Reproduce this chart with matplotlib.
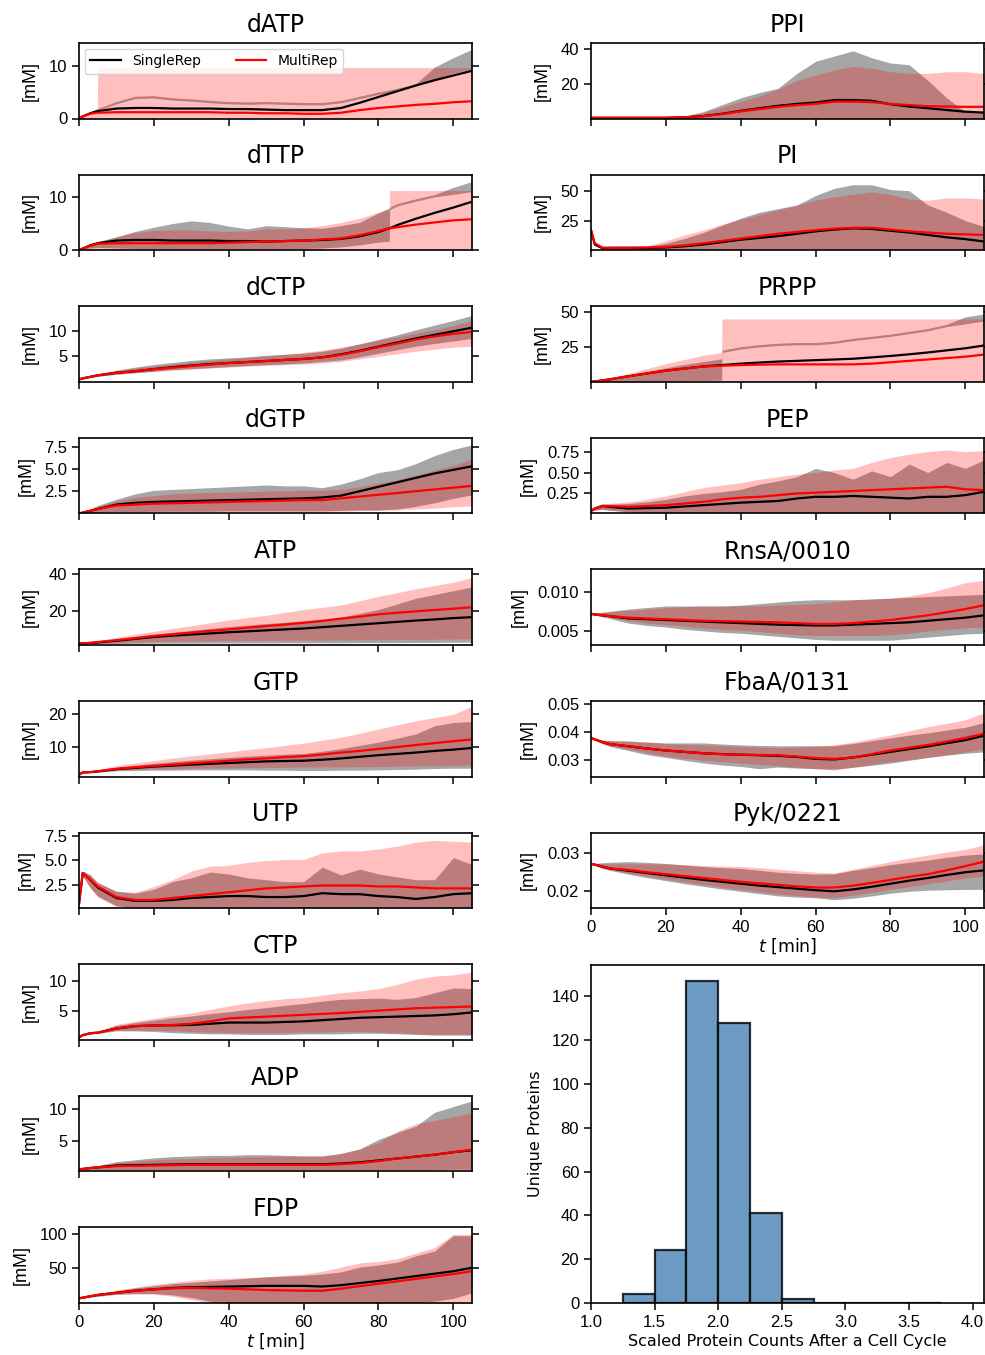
import numpy as np
import matplotlib.pyplot as plt

plt.rcParams["font.family"] = "Liberation Sans"
plt.rcParams["xtick.labelsize"] = 12
plt.rcParams["ytick.labelsize"] = 12
LABEL_FONT = "DejaVu Sans"

# time axis in minutes (common sampling)
t_min = [0, 1, 3, 5, 10, 15, 20, 25, 30, 35, 40, 45, 50, 55, 60, 65, 70, 75, 80, 85, 90, 95, 100, 105]

# ---- left column -------------------------------------------------------
datp_t = [0, 1, 3, 4.9, 5, 10, 15, 20, 25, 30, 35, 40, 45, 50, 55, 60, 65, 70, 75, 80, 85, 90, 95, 100, 105]
datp_sr = [0, 0.4, 1.0, 1.4, 1.4, 1.9, 2.0, 2.0, 1.9, 1.9, 1.9, 1.8, 1.8, 1.7, 1.6, 1.6, 1.6, 2.0, 3.0, 4.1, 5.2, 6.3, 7.3, 8.2, 9.1]
datp_sr_lo = [0, 0.4, 1.0, 1.5, 1.5, 2.8, 3.8, 3.9, 3.5, 3.3, 3.0, 2.8, 2.7, 2.8, 2.7, 2.6, 2.6, 3.0, 3.8, 4.6, 5.3, 6.2, 7.5, 8.6, 9.5]
datp_sr_hi = [0, 0.5, 1.3, 1.9, 1.9, 3.25, 4.25, 4.35, 3.95, 3.75, 3.45, 3.25, 3.15, 3.25, 3.15, 3.05, 3.05, 3.45, 4.25, 5.05, 5.75, 6.65, 9.8, 11.6, 13.2]
datp_mr = [0, 0.4, 0.9, 1.1, 1.1, 1.2, 1.2, 1.2, 1.2, 1.2, 1.2, 1.1, 1.1, 1.0, 1.0, 0.9, 0.9, 1.1, 1.6, 2.0, 2.3, 2.6, 2.8, 3.1, 3.3]
datp_mr_lo = [0, 0, 0, 0, 0, 0, 0, 0, 0, 0, 0, 0, 0, 0, 0, 0, 0, 0, 0, 0, 0, 0, 0, 0, 0]
datp_mr_hi = [0, 0.5, 1.3, 1.6, 9.7, 9.7, 9.7, 9.7, 9.7, 9.7, 9.7, 9.7, 9.7, 9.7, 9.7, 9.7, 9.7, 9.7, 9.7, 9.7, 9.7, 9.7, 9.7, 9.7, 9.7]

dttp_t = [0, 1, 3, 5, 10, 15, 20, 25, 30, 35, 40, 45, 50, 55, 60, 65, 70, 75, 80, 82.9, 83, 85, 90, 95, 100, 105]
dttp_sr = [0, 0.3, 0.9, 1.3, 1.8, 1.9, 1.9, 1.8, 1.8, 1.8, 1.7, 1.7, 1.6, 1.7, 1.8, 1.9, 2.1, 2.6, 3.4, 4.1, 4.1, 4.7, 5.9, 7.0, 8.0, 9.1]
dttp_sr_lo = [0, 0.2, 0.4, 0.5, 0.4, 0.3, 0.3, 0.3, 0.3, 0.3, 0.3, 0.3, 0.3, 0.3, 0.3, 0.4, 0.6, 1.0, 1.5, 1.7, 7.6, 8.3, 9.2, 10.0, 10.5, 11.0]
dttp_sr_hi = [0, 0.5, 1.2, 1.6, 2.5, 3.5, 4.3, 5.0, 5.5, 5.2, 4.5, 4.0, 4.6, 4.4, 4.2, 4.1, 4.6, 5.2, 7.0, 7.9, 8.05, 8.75, 9.65, 10.45, 11.8, 12.9]
dttp_mr = [0, 0.3, 0.8, 1.2, 1.3, 1.3, 1.3, 1.3, 1.3, 1.3, 1.4, 1.5, 1.6, 1.7, 1.8, 2.0, 2.2, 2.8, 3.6, 4.1, 4.1, 4.3, 4.8, 5.2, 5.6, 5.8]
dttp_mr_lo = [0, 0, 0, 0, 0, 0, 0, 0, 0, 0, 0, 0, 0, 0, 0, 0, 0, 0, 0, 0, 0, 0, 0, 0, 0, 0]
dttp_mr_hi = [0, 0.5, 1.2, 1.5, 2.5, 3.3, 3.7, 3.8, 3.8, 3.6, 3.5, 3.6, 4.0, 4.0, 4.2, 4.6, 5.2, 6.0, 7.1, 7.7, 11.2, 11.2, 11.2, 11.2, 11.2, 11.2]

dctp_sr = [0.5, 0.7, 1.0, 1.3, 1.8, 2.1, 2.5, 2.9, 3.2, 3.5, 3.7, 3.9, 4.1, 4.3, 4.5, 4.8, 5.4, 6.1, 6.9, 7.7, 8.5, 9.2, 9.9, 10.6]
dctp_sr_lo = [0.5, 0.6, 0.9, 1.1, 1.5, 1.8, 2.1, 2.4, 2.6, 2.8, 3.0, 3.2, 3.4, 3.5, 3.7, 4.0, 4.3, 4.9, 5.6, 6.3, 7.0, 7.5, 8.0, 8.5]
dctp_sr_hi = [0.5, 0.8, 1.2, 1.5, 2.3, 2.9, 3.4, 3.8, 4.2, 4.5, 4.7, 4.9, 5.2, 5.4, 5.6, 6.0, 6.6, 7.4, 8.3, 9.2, 10.2, 11.1, 12.0, 13.0]
dctp_mr = [0.5, 0.7, 1.0, 1.3, 1.8, 2.1, 2.5, 2.8, 3.1, 3.4, 3.7, 3.9, 4.1, 4.3, 4.5, 4.8, 5.3, 6.0, 6.8, 7.5, 8.3, 8.9, 9.4, 9.8]
dctp_mr_lo = [0.5, 0.6, 0.9, 1.1, 1.5, 1.8, 2.0, 2.3, 2.5, 2.7, 2.9, 3.1, 3.2, 3.4, 3.5, 3.7, 4.0, 4.5, 5.0, 5.5, 6.0, 6.4, 6.8, 7.0]
dctp_mr_hi = [0.5, 0.8, 1.2, 1.5, 2.2, 2.7, 3.1, 3.5, 3.9, 4.2, 4.5, 4.8, 5.1, 5.4, 5.8, 6.2, 6.8, 7.5, 8.2, 8.8, 9.5, 10.2, 11.0, 12.0]

dgtp_sr = [0, 0.1, 0.3, 0.5, 1.0, 1.2, 1.3, 1.35, 1.4, 1.45, 1.5, 1.55, 1.6, 1.65, 1.7, 1.8, 2.0, 2.5, 3.0, 3.5, 4.0, 4.5, 4.9, 5.3]
dgtp_sr_lo = [0, 0.05, 0.1, 0.15, 0.2, 0.2, 0.25, 0.25, 0.25, 0.25, 0.3, 0.3, 0.3, 0.3, 0.3, 0.3, 0.35, 0.4, 0.4, 0.5, 0.8, 1.2, 1.7, 2.1]
dgtp_sr_hi = [0, 0.15, 0.5, 0.9, 1.6, 2.2, 2.6, 2.7, 2.8, 2.9, 3.0, 3.1, 3.2, 3.1, 3.1, 2.9, 3.3, 3.9, 4.6, 4.9, 5.6, 6.5, 7.2, 7.7]
dgtp_mr = [0, 0.1, 0.3, 0.5, 0.9, 1.0, 1.1, 1.15, 1.2, 1.25, 1.3, 1.35, 1.4, 1.45, 1.5, 1.5, 1.7, 1.9, 2.1, 2.3, 2.5, 2.7, 2.9, 3.1]
dgtp_mr_lo = [0, 0.05, 0.1, 0.15, 0.15, 0.15, 0.2, 0.2, 0.2, 0.2, 0.2, 0.2, 0.2, 0.2, 0.2, 0.2, 0.25, 0.3, 0.35, 0.4, 0.5, 0.6, 0.75, 0.85]
dgtp_mr_hi = [0, 0.15, 0.5, 0.8, 1.4, 1.8, 2.0, 2.2, 2.3, 2.35, 2.4, 2.45, 2.5, 2.55, 2.6, 2.6, 2.7, 3.0, 3.4, 3.8, 4.3, 4.9, 5.4, 6.1]

atp_sr = [3.0, 3.1, 3.3, 3.6, 4.5, 5.5, 6.5, 7.2, 7.8, 8.4, 9.0, 9.5, 10.0, 10.5, 11.0, 11.7, 12.4, 13.1, 13.8, 14.5, 15.2, 15.8, 16.5, 17.0]
atp_sr_lo = [3.0, 3.0, 3.0, 3.0, 3.0, 3.1, 3.2, 3.2, 3.2, 3.3, 3.3, 3.3, 3.3, 3.4, 3.4, 3.4, 3.4, 3.5, 3.5, 3.5, 3.6, 3.6, 3.7, 3.8]
atp_sr_hi = [3.0, 3.2, 3.6, 4.2, 5.5, 6.8, 8.0, 9.0, 10.0, 11.0, 12.0, 12.8, 13.6, 14.3, 15.0, 16.0, 17.0, 19.0, 21.0, 24.0, 27.0, 29.0, 31.0, 33.0]
atp_mr = [3.0, 3.1, 3.4, 3.8, 4.8, 5.9, 7.0, 7.9, 8.8, 9.7, 10.5, 11.4, 12.3, 13.1, 14.0, 15.0, 16.2, 17.3, 18.5, 19.3, 20.1, 20.8, 21.5, 22.2]
atp_mr_lo = [3.0, 3.0, 3.1, 3.2, 3.5, 3.8, 4.0, 4.2, 4.3, 4.4, 4.5, 4.6, 4.7, 4.7, 4.8, 4.8, 4.9, 4.9, 5.0, 5.1, 5.2, 5.3, 5.4, 5.5]
atp_mr_hi = [3.0, 3.3, 3.9, 4.6, 6.3, 7.9, 9.5, 11.0, 12.5, 14.0, 15.5, 16.8, 18.0, 19.5, 21.0, 22.2, 23.5, 25.7, 28.0, 30.0, 32.0, 33.8, 35.5, 38.0]

gtp_sr = [1.5, 2.2, 2.3, 2.5, 3.2, 3.6, 4.0, 4.3, 4.6, 4.85, 5.1, 5.35, 5.6, 5.7, 5.8, 6.1, 6.5, 7.0, 7.5, 7.9, 8.3, 8.8, 9.2, 9.7]
gtp_sr_lo = [1.5, 2.1, 2.2, 2.3, 2.7, 2.8, 2.9, 2.9, 3.0, 3.0, 3.0, 3.0, 2.9, 2.9, 2.8, 2.8, 2.9, 2.9, 3.0, 3.1, 3.2, 3.4, 3.5, 3.5]
gtp_sr_hi = [1.5, 2.3, 2.5, 2.8, 3.8, 4.4, 5.0, 5.5, 6.0, 6.4, 6.8, 7.2, 7.5, 7.8, 8.0, 8.7, 9.5, 10.5, 11.5, 12.7, 14.0, 16.5, 17.5, 17.8]
gtp_mr = [1.5, 2.2, 2.3, 2.6, 3.3, 3.8, 4.2, 4.6, 5.0, 5.4, 5.8, 6.2, 6.5, 6.9, 7.2, 7.7, 8.3, 8.8, 9.4, 10.0, 10.6, 11.2, 11.8, 12.3]
gtp_mr_lo = [1.5, 2.1, 2.2, 2.4, 3.0, 3.2, 3.3, 3.4, 3.5, 3.5, 3.6, 3.7, 3.7, 3.8, 3.9, 3.9, 3.9, 4.0, 4.0, 4.1, 4.2, 4.2, 4.3, 4.5]
gtp_mr_hi = [1.5, 2.3, 2.6, 3.0, 4.3, 5.1, 5.8, 6.6, 7.3, 7.9, 8.5, 9.2, 9.8, 10.5, 11.2, 12.1, 13.0, 14.2, 15.5, 16.8, 18.0, 19.0, 20.0, 22.5]

utp_sr = [0.5, 3.7, 3.0, 2.2, 1.1, 0.8, 0.8, 0.9, 1.1, 1.2, 1.3, 1.3, 1.2, 1.2, 1.3, 1.6, 1.5, 1.5, 1.3, 1.2, 1.0, 1.2, 1.5, 1.6]
utp_sr_lo = [0.5, 3.4, 2.2, 1.3, 0.3, 0.1, 0.1, 0.1, 0.1, 0.1, 0.1, 0.1, 0.1, 0.1, 0.1, 0.1, 0.1, 0.1, 0.1, 0.1, 0.1, 0.1, 0.1, 0.1]
utp_sr_hi = [0.5, 3.9, 3.5, 2.7, 1.8, 1.6, 2.0, 2.8, 3.2, 3.8, 3.6, 3.2, 3.0, 2.8, 2.8, 4.3, 3.5, 4.1, 3.6, 3.3, 3.0, 3.0, 5.3, 4.6]
utp_mr = [0.5, 3.7, 3.0, 2.3, 1.2, 0.9, 0.9, 1.1, 1.3, 1.5, 1.7, 1.9, 2.1, 2.2, 2.3, 2.4, 2.4, 2.4, 2.3, 2.3, 2.2, 2.1, 2.1, 2.1]
utp_mr_lo = [0.5, 3.3, 2.1, 1.2, 0.2, 0.1, 0.1, 0.1, 0.1, 0.1, 0.1, 0.1, 0.1, 0.1, 0.1, 0.1, 0.1, 0.1, 0.1, 0.1, 0.1, 0.1, 0.1, 0.1]
utp_mr_hi = [0.5, 3.9, 3.5, 2.7, 1.8, 1.7, 2.3, 3.0, 3.9, 4.4, 4.5, 4.8, 5.0, 5.1, 5.1, 5.8, 6.0, 6.0, 6.2, 6.5, 6.9, 7.1, 7.0, 6.9]

ctp_sr = [0.5, 0.9, 1.2, 1.3, 2.0, 2.4, 2.5, 2.55, 2.6, 2.8, 3.0, 3.0, 3.0, 3.1, 3.2, 3.4, 3.6, 3.8, 3.9, 4.0, 4.1, 4.2, 4.4, 4.7]
ctp_sr_lo = [0.5, 0.8, 1.1, 1.2, 1.6, 1.6, 1.5, 1.3, 1.2, 1.1, 1.1, 1.0, 1.0, 1.0, 1.1, 1.1, 1.1, 1.2, 1.2, 1.1, 1.0, 0.9, 0.9, 0.9]
ctp_sr_hi = [0.5, 1.0, 1.3, 1.5, 2.5, 3.0, 3.4, 3.8, 4.1, 4.5, 4.8, 5.2, 5.5, 5.9, 6.2, 6.6, 6.9, 7.0, 7.1, 6.9, 7.2, 8.0, 8.8, 8.7]
ctp_mr = [0.5, 0.9, 1.2, 1.3, 2.0, 2.4, 2.5, 2.6, 2.8, 3.2, 3.7, 3.85, 4.0, 4.15, 4.3, 4.45, 4.6, 4.8, 5.0, 5.2, 5.4, 5.5, 5.6, 5.7]
ctp_mr_lo = [0.5, 0.8, 1.1, 1.2, 1.7, 1.7, 1.7, 1.6, 1.5, 1.4, 1.3, 1.3, 1.3, 1.3, 1.4, 1.4, 1.5, 1.5, 1.4, 1.3, 1.1, 1.0, 1.0, 1.0]
ctp_mr_hi = [0.5, 1.0, 1.3, 1.5, 2.7, 3.2, 3.7, 4.2, 4.6, 5.2, 5.8, 6.3, 6.7, 7.0, 7.2, 7.6, 8.0, 8.3, 8.7, 9.4, 10.3, 10.8, 11.0, 11.5]

adp_sr = [0.5, 0.55, 0.7, 0.8, 1.1, 1.15, 1.2, 1.25, 1.3, 1.3, 1.3, 1.3, 1.3, 1.3, 1.3, 1.3, 1.4, 1.6, 1.9, 2.2, 2.5, 2.8, 3.2, 3.5]
adp_sr_lo = [0.5, 0.45, 0.4, 0.4, 0.4, 0.4, 0.4, 0.4, 0.4, 0.4, 0.4, 0.4, 0.4, 0.4, 0.4, 0.4, 0.4, 0.4, 0.4, 0.4, 0.4, 0.45, 0.5, 0.5]
adp_sr_hi = [0.5, 0.7, 0.9, 1.1, 1.7, 2.0, 2.3, 2.5, 2.6, 2.7, 2.7, 2.8, 2.8, 2.7, 2.6, 2.6, 3.0, 3.7, 5.2, 6.3, 7.3, 9.5, 10.4, 11.3]
adp_mr = [0.5, 0.55, 0.7, 0.8, 1.0, 1.05, 1.1, 1.15, 1.2, 1.2, 1.2, 1.2, 1.2, 1.2, 1.2, 1.2, 1.3, 1.5, 1.8, 2.2, 2.5, 2.8, 3.2, 3.6]
adp_mr_lo = [0.5, 0.45, 0.4, 0.4, 0.4, 0.4, 0.4, 0.4, 0.4, 0.4, 0.4, 0.4, 0.4, 0.4, 0.4, 0.4, 0.4, 0.4, 0.4, 0.4, 0.4, 0.4, 0.45, 0.45]
adp_mr_hi = [0.5, 0.7, 0.9, 1.0, 1.5, 1.8, 2.0, 2.1, 2.2, 2.3, 2.4, 2.45, 2.5, 2.55, 2.6, 2.6, 3.0, 3.7, 4.7, 6.5, 7.7, 8.2, 8.8, 9.4]

fdp_sr = [7, 8, 10, 12, 15, 18, 20, 22, 23, 23.5, 24, 24.5, 25, 25, 25, 24, 26, 29, 32, 35.5, 39, 42.5, 46, 51]
fdp_sr_lo = [7, 7.5, 9, 10, 13, 14, 14, 12, 8, 3, 1, 1, 1, 1, 1, 1, 1, 1, 1, 1, 1, 3, 7, 15]
fdp_sr_hi = [7, 8.5, 11, 13, 18, 22, 25, 28, 30, 32, 34, 36, 38, 39, 40, 42, 45, 52, 55, 59, 68, 75, 97, 97]
fdp_mr = [7, 8, 10, 12, 15, 18, 20, 21.5, 22, 21.5, 21, 20, 19, 18.5, 18, 18, 21, 24.5, 28, 31.5, 35, 38.5, 42, 46]
fdp_mr_lo = [7, 7.5, 9, 10, 13, 13, 13, 10, 5, 1, 0.5, 0.5, 0.5, 0.5, 0.5, 0.5, 0.5, 0.5, 0.5, 0.5, 0.5, 0.5, 0.5, 0.5]
fdp_mr_hi = [7, 8.5, 11, 13, 19, 23, 27, 30, 33, 35, 36, 37, 38, 40, 42, 46, 52, 58, 60, 64, 72, 80, 99, 99]

# ---- right column ------------------------------------------------------
ppi_sr = [0.5, 0.5, 0.5, 0.5, 0.5, 0.5, 0.5, 0.8, 1.5, 2.8, 4.5, 6.0, 7.4, 8.5, 9.3, 10.7, 10.7, 10.3, 8.3, 7.0, 6.0, 5.0, 4.0, 3.5]
ppi_sr_lo = [0.2, 0.2, 0.2, 0.2, 0.2, 0.2, 0.2, 0.2, 0.2, 0.2, 0.2, 0.2, 0.2, 0.2, 0.2, 0.2, 0.2, 0.2, 0.2, 0.2, 0.2, 0.2, 0.2, 0.2]
ppi_sr_hi = [0.5, 0.5, 0.5, 0.5, 0.5, 0.5, 0.5, 1.5, 4.0, 8.0, 12.0, 15.0, 17.5, 26.0, 33.0, 36.0, 39.0, 35.0, 32.0, 31.0, 22.0, 12.0, 4.0, 3.5]
ppi_mr = [0.5, 0.5, 0.5, 0.5, 0.5, 0.5, 0.5, 0.8, 1.4, 2.6, 4.2, 5.5, 6.8, 7.8, 8.5, 9.8, 9.8, 9.5, 8.5, 7.8, 7.2, 7.0, 6.8, 6.8]
ppi_mr_lo = [0.2, 0.2, 0.2, 0.2, 0.2, 0.2, 0.2, 0.2, 0.2, 0.2, 0.2, 0.2, 0.2, 0.2, 0.2, 0.2, 0.2, 0.2, 0.2, 0.2, 0.2, 0.2, 0.2, 0.2]
ppi_mr_hi = [0.5, 0.5, 0.5, 0.5, 0.5, 0.5, 0.8, 1.3, 3.5, 6.5, 10.0, 13.0, 17.0, 22.0, 25.0, 28.0, 30.0, 29.0, 27.0, 26.0, 26.0, 27.0, 27.0, 26.0]

pi_sr = [17, 5, 2, 1.8, 1.8, 2.0, 2.5, 3.5, 5, 7, 9, 10.5, 12, 14, 16, 17.5, 18.5, 18, 16.5, 15, 13, 11, 9.5, 7.5]
pi_sr_lo = [17, 4, 1.5, 1, 1, 1, 1, 1, 1, 1, 1, 1, 1, 1, 1, 1, 1, 1, 1, 1, 1, 1, 1, 1]
pi_sr_hi = [17, 7, 3, 4, 4, 3.5, 6, 10, 15, 21, 27, 32, 35, 38, 46, 52, 55, 55, 51, 50, 38, 32, 25, 20]
pi_mr = [17, 6, 2.5, 2.2, 2.2, 2.5, 3.0, 4.3, 6, 8, 10, 12, 14, 15.5, 17, 18.3, 19, 19, 17.5, 16, 15, 14, 13.5, 13]
pi_mr_lo = [17, 4, 1.5, 1, 1, 1, 1, 1, 1, 1, 1, 1, 1, 1, 1, 1, 1, 1, 1, 1, 1, 1, 1, 1]
pi_mr_hi = [17, 7, 2.5, 3.5, 3.5, 4, 8, 13, 17, 22, 26, 30, 34, 38, 42, 45, 47, 49, 47, 43, 42, 44, 44, 43]

prpp_t = [0, 1, 3, 5, 10, 15, 20, 25, 30, 34.9, 35, 40, 45, 50, 55, 60, 65, 70, 75, 80, 85, 90, 95, 100, 105]
prpp_sr = [0, 0.3, 1.0, 1.8, 4, 6, 8, 9.5, 11, 12, 12, 13, 13.8, 14.5, 15, 15.5, 16, 16.5, 17.5, 18.5, 19.7, 21, 22.5, 24, 26]
prpp_sr_lo = [0, 0.1, 0.3, 0.5, 0.5, 0.5, 0.6, 0.8, 1.0, 1.2, 21, 23.5, 25, 26, 26.5, 26.5, 27.5, 29.5, 31, 32.5, 34.5, 36.5, 39.5, 41.5, 43.5]
prpp_sr_hi = [0, 0.4, 1.2, 2, 5, 7.5, 10, 12.5, 14.5, 16.5, 22.6, 25.1, 26.6, 27.6, 28.1, 28.1, 29.1, 31.1, 32.6, 34.1, 36.1, 38.1, 41.1, 46.5, 48.5]
prpp_mr = [0, 0.3, 1.0, 1.8, 4, 6, 8, 9.5, 11, 11.5, 11.5, 12, 12.3, 12.5, 12.5, 12.5, 12.5, 12.5, 13, 14, 15, 16, 17, 18, 19.5]
prpp_mr_lo = [0, 0, 0, 0, 0, 0, 0, 0, 0, 0, 0, 0, 0, 0, 0, 0, 0, 0, 0, 0, 0, 0, 0, 0, 0]
prpp_mr_hi = [0, 0.4, 1.3, 2.5, 6, 9.5, 13, 16, 19, 21, 45, 45, 45, 45, 45, 45, 45, 45, 45, 45, 45, 45, 45, 45, 45]

pep_sr = [0.04, 0.07, 0.1, 0.09, 0.07, 0.075, 0.08, 0.095, 0.11, 0.125, 0.14, 0.15, 0.16, 0.19, 0.21, 0.21, 0.22, 0.21, 0.2, 0.19, 0.21, 0.21, 0.23, 0.27]
pep_sr_lo = [0.04, 0.05, 0.06, 0.05, 0.03, 0.02, 0.02, 0.02, 0.02, 0.02, 0.02, 0.02, 0.02, 0.02, 0.02, 0.02, 0.02, 0.02, 0.02, 0.02, 0.02, 0.02, 0.02, 0.02]
pep_sr_hi = [0.04, 0.08, 0.12, 0.12, 0.13, 0.15, 0.18, 0.22, 0.25, 0.27, 0.3, 0.36, 0.4, 0.45, 0.55, 0.5, 0.42, 0.52, 0.45, 0.6, 0.5, 0.62, 0.55, 0.65]
pep_mr = [0.04, 0.07, 0.1, 0.1, 0.09, 0.1, 0.11, 0.13, 0.15, 0.18, 0.2, 0.21, 0.23, 0.25, 0.26, 0.27, 0.28, 0.29, 0.3, 0.31, 0.32, 0.33, 0.3, 0.29]
pep_mr_lo = [0.04, 0.05, 0.06, 0.05, 0.03, 0.02, 0.02, 0.02, 0.02, 0.02, 0.02, 0.02, 0.02, 0.02, 0.02, 0.02, 0.02, 0.02, 0.02, 0.02, 0.02, 0.02, 0.02, 0.02]
pep_mr_hi = [0.04, 0.09, 0.13, 0.13, 0.15, 0.18, 0.22, 0.27, 0.32, 0.35, 0.38, 0.42, 0.45, 0.48, 0.5, 0.53, 0.55, 0.62, 0.68, 0.72, 0.75, 0.77, 0.75, 0.76]

rnsa_sr = [0.0072, 0.0071, 0.0070, 0.0069, 0.0066, 0.0065, 0.0064, 0.0063, 0.0062, 0.0061, 0.0060, 0.0059, 0.0058, 0.00575, 0.0057, 0.0057, 0.0058, 0.0059, 0.0060, 0.0061, 0.0063, 0.0065, 0.0067, 0.0070]
rnsa_sr_lo = [0.0072, 0.0071, 0.0068, 0.0066, 0.0060, 0.0057, 0.0055, 0.0052, 0.0050, 0.0048, 0.0047, 0.0045, 0.0043, 0.0041, 0.0039, 0.0038, 0.0038, 0.0038, 0.0038, 0.0040, 0.0042, 0.0044, 0.0046, 0.0047]
rnsa_sr_hi = [0.0072, 0.0073, 0.0074, 0.0075, 0.0078, 0.0080, 0.0082, 0.0082, 0.0082, 0.0082, 0.0083, 0.0085, 0.0087, 0.0089, 0.0090, 0.0090, 0.0090, 0.0091, 0.0092, 0.0093, 0.0094, 0.0095, 0.0096, 0.0097]
rnsa_mr = [0.0072, 0.0071, 0.0070, 0.0069, 0.0067, 0.0066, 0.0065, 0.0064, 0.0063, 0.00625, 0.0062, 0.00615, 0.0061, 0.0060, 0.0059, 0.0059, 0.0060, 0.0062, 0.0064, 0.0067, 0.0070, 0.0074, 0.0078, 0.0083]
rnsa_mr_lo = [0.0072, 0.0071, 0.0069, 0.0067, 0.0063, 0.0060, 0.0058, 0.0056, 0.0054, 0.0052, 0.0051, 0.0049, 0.0047, 0.0045, 0.0044, 0.0044, 0.0044, 0.0044, 0.0045, 0.0047, 0.0050, 0.0052, 0.0054, 0.0055]
rnsa_mr_hi = [0.0072, 0.0073, 0.0074, 0.0075, 0.0076, 0.0078, 0.0080, 0.0081, 0.0082, 0.0082, 0.0082, 0.0082, 0.0083, 0.0084, 0.0085, 0.0087, 0.0090, 0.0091, 0.0092, 0.0095, 0.0099, 0.0105, 0.0112, 0.0115]

fbaa_sr = [0.0380, 0.0375, 0.0365, 0.0358, 0.0350, 0.0342, 0.0335, 0.0330, 0.0325, 0.0322, 0.0320, 0.0318, 0.0316, 0.0312, 0.0305, 0.0303, 0.0310, 0.0320, 0.0330, 0.0340, 0.0350, 0.0361, 0.0372, 0.0388]
fbaa_sr_lo = [0.0380, 0.0372, 0.0360, 0.0350, 0.0335, 0.0320, 0.0310, 0.0300, 0.0290, 0.0283, 0.0278, 0.0270, 0.0276, 0.0272, 0.0270, 0.0268, 0.0275, 0.0282, 0.0290, 0.0300, 0.0310, 0.0318, 0.0325, 0.0330]
fbaa_sr_hi = [0.0380, 0.0378, 0.0372, 0.0370, 0.0368, 0.0365, 0.0362, 0.0362, 0.0362, 0.0358, 0.0355, 0.0353, 0.0352, 0.0352, 0.0352, 0.0352, 0.0360, 0.0370, 0.0380, 0.0390, 0.0398, 0.0408, 0.0418, 0.0435]
fbaa_mr = [0.0380, 0.0375, 0.0365, 0.0358, 0.0350, 0.0342, 0.0335, 0.0330, 0.0325, 0.0322, 0.0320, 0.0319, 0.0318, 0.0313, 0.0308, 0.0305, 0.0310, 0.0322, 0.0335, 0.0345, 0.0355, 0.0367, 0.0380, 0.0395]
fbaa_mr_lo = [0.0380, 0.0372, 0.0360, 0.0350, 0.0340, 0.0327, 0.0315, 0.0307, 0.0300, 0.0295, 0.0290, 0.0285, 0.0280, 0.0275, 0.0270, 0.0265, 0.0275, 0.0285, 0.0295, 0.0302, 0.0310, 0.0320, 0.0330, 0.0340]
fbaa_mr_hi = [0.0380, 0.0378, 0.0373, 0.0371, 0.0370, 0.0365, 0.0360, 0.0357, 0.0355, 0.0352, 0.0350, 0.0347, 0.0345, 0.0347, 0.0350, 0.0355, 0.0365, 0.0378, 0.0390, 0.0405, 0.0420, 0.0432, 0.0445, 0.0470]

pyk_sr = [0.0272, 0.0270, 0.0265, 0.0260, 0.0254, 0.0248, 0.0242, 0.0236, 0.0230, 0.0225, 0.0220, 0.0215, 0.0211, 0.0207, 0.0203, 0.0200, 0.0205, 0.0212, 0.0220, 0.0228, 0.0235, 0.0243, 0.0250, 0.0255]
pyk_sr_lo = [0.0272, 0.0268, 0.0260, 0.0255, 0.0245, 0.0236, 0.0228, 0.0220, 0.0213, 0.0206, 0.0200, 0.0194, 0.0188, 0.0185, 0.0183, 0.0178, 0.0182, 0.0188, 0.0195, 0.0200, 0.0203, 0.0204, 0.0205, 0.0205]
pyk_sr_hi = [0.0272, 0.0273, 0.0275, 0.0276, 0.0278, 0.0276, 0.0273, 0.0269, 0.0265, 0.0262, 0.0260, 0.0255, 0.0250, 0.0247, 0.0245, 0.0246, 0.0255, 0.0262, 0.0270, 0.0276, 0.0282, 0.0289, 0.0295, 0.0298]
pyk_mr = [0.0272, 0.0270, 0.0265, 0.0260, 0.0256, 0.0250, 0.0245, 0.0240, 0.0235, 0.0230, 0.0225, 0.0221, 0.0217, 0.0213, 0.0210, 0.0210, 0.0215, 0.0222, 0.0230, 0.0238, 0.0245, 0.0255, 0.0266, 0.0278]
pyk_mr_lo = [0.0272, 0.0268, 0.0261, 0.0257, 0.0248, 0.0240, 0.0232, 0.0225, 0.0218, 0.0211, 0.0205, 0.0199, 0.0193, 0.0189, 0.0185, 0.0183, 0.0190, 0.0197, 0.0205, 0.0212, 0.0220, 0.0227, 0.0235, 0.0240]
pyk_mr_hi = [0.0272, 0.0273, 0.0273, 0.0272, 0.0272, 0.0272, 0.0272, 0.0270, 0.0268, 0.0266, 0.0265, 0.0262, 0.0258, 0.0254, 0.0250, 0.0248, 0.0258, 0.0268, 0.0278, 0.0287, 0.0295, 0.0303, 0.0310, 0.0322]

# histogram of scaled protein counts
hist_edges = [1.25, 1.5, 1.75, 2.0, 2.25, 2.5, 2.75, 3.0, 3.25, 3.5, 3.75]
hist_counts = [4, 24, 147, 128, 41, 2, 0, 0, 0, 0]

# (title, t, SingleRep mean/lo/hi, MultiRep mean/lo/hi, ylim, yticks)
left_panels = [
    ("dATP", datp_t, (datp_sr, datp_sr_lo, datp_sr_hi), (datp_mr, datp_mr_lo, datp_mr_hi), (0, 14.4), [0, 10]),
    ("dTTP", dttp_t, (dttp_sr, dttp_sr_lo, dttp_sr_hi), (dttp_mr, dttp_mr_lo, dttp_mr_hi), (0, 14.2), [0, 10]),
    ("dCTP", t_min, (dctp_sr, dctp_sr_lo, dctp_sr_hi), (dctp_mr, dctp_mr_lo, dctp_mr_hi), (0.05, 14.8), [5, 10]),
    ("dGTP", t_min, (dgtp_sr, dgtp_sr_lo, dgtp_sr_hi), (dgtp_mr, dgtp_mr_lo, dgtp_mr_hi), (0.02, 8.5), [2.5, 5.0, 7.5]),
    ("ATP", t_min, (atp_sr, atp_sr_lo, atp_sr_hi), (atp_mr, atp_mr_lo, atp_mr_hi), (2.3, 42.3), [20, 40]),
    ("GTP", t_min, (gtp_sr, gtp_sr_lo, gtp_sr_hi), (gtp_mr, gtp_mr_lo, gtp_mr_hi), (0.96, 24.1), [10, 20]),
    ("UTP", t_min, (utp_sr, utp_sr_lo, utp_sr_hi), (utp_mr, utp_mr_lo, utp_mr_hi), (0.05, 7.9), [2.5, 5.0, 7.5]),
    ("CTP", t_min, (ctp_sr, ctp_sr_lo, ctp_sr_hi), (ctp_mr, ctp_mr_lo, ctp_mr_hi), (0.12, 12.8), [5, 10]),
    ("ADP", t_min, (adp_sr, adp_sr_lo, adp_sr_hi), (adp_mr, adp_mr_lo, adp_mr_hi), (0.18, 12.1), [5, 10]),
    ("FDP", t_min, (fdp_sr, fdp_sr_lo, fdp_sr_hi), (fdp_mr, fdp_mr_lo, fdp_mr_hi), (0.5, 109), [50, 100]),
]
right_panels = [
    ("PPI", t_min, (ppi_sr, ppi_sr_lo, ppi_sr_hi), (ppi_mr, ppi_mr_lo, ppi_mr_hi), (0.1, 43.5), [20, 40]),
    ("PI", t_min, (pi_sr, pi_sr_lo, pi_sr_hi), (pi_mr, pi_mr_lo, pi_mr_hi), (0.3, 63.5), [25, 50]),
    ("PRPP", prpp_t, (prpp_sr, prpp_sr_lo, prpp_sr_hi), (prpp_mr, prpp_mr_lo, prpp_mr_hi), (0.1, 54.1), [25, 50]),
    ("PEP", t_min, (pep_sr, pep_sr_lo, pep_sr_hi), (pep_mr, pep_mr_lo, pep_mr_hi), (0.013, 0.915), [0.25, 0.50, 0.75]),
    ("RnsA/0010", t_min, (rnsa_sr, rnsa_sr_lo, rnsa_sr_hi), (rnsa_mr, rnsa_mr_lo, rnsa_mr_hi), (0.0032, 0.0129), [0.005, 0.010]),
    ("FbaA/0131", t_min, (fbaa_sr, fbaa_sr_lo, fbaa_sr_hi), (fbaa_mr, fbaa_mr_lo, fbaa_mr_hi), (0.0242, 0.0512), [0.03, 0.04, 0.05]),
    ("Pyk/0221", t_min, (pyk_sr, pyk_sr_lo, pyk_sr_hi), (pyk_mr, pyk_mr_lo, pyk_mr_hi), (0.0156, 0.0354), [0.02, 0.03]),
]

W, H = 985, 1355
fig = plt.figure(figsize=(W / 100, H / 100), dpi=100)


def px_axes(x0, y0, x1, y1):
    return fig.add_axes([x0 / W, 1 - y1 / H, (x1 - x0) / W, (y1 - y0) / H])


def style_axes(ax):
    for sp in ax.spines.values():
        sp.set_linewidth(1.2)
    ax.tick_params(direction="out", length=5, width=1.1)


def draw_panel(ax, title, t, sr, mr, ylim, yticks, bottom):
    ax.fill_between(t, sr[1], sr[2], color="gray", alpha=0.7, lw=0)
    ax.fill_between(t, mr[1], mr[2], color="red", alpha=0.25, lw=0)
    ax.plot(t, sr[0], color="black", lw=1.6, label="SingleRep")
    ax.plot(t, mr[0], color="red", lw=1.6, label="MultiRep")
    ax.set_xlim(0, 105)
    ax.set_ylim(*ylim)
    ax.set_yticks(yticks)
    ax.set_xticks([0, 20, 40, 60, 80, 100])
    ax.tick_params(axis="y", right=True)
    ax.set_title(title, fontsize=17, pad=8, family=LABEL_FONT)
    ax.set_ylabel("[mM]", fontsize=13, labelpad=7)
    if bottom:
        ax.set_xlabel("$t$ [min]", fontsize=12.5, labelpad=1, family=LABEL_FONT)
    else:
        ax.tick_params(axis="x", labelbottom=False)
    style_axes(ax)


row_step = 131.6
for i, (title, t, sr, mr, ylim, yticks) in enumerate(left_panels):
    y0 = 43 + row_step * i
    ax = px_axes(79, y0, 472, y0 + 75.5)
    draw_panel(ax, title, t, sr, mr, ylim, yticks, i == len(left_panels) - 1)
    if i == 0:
        ax.legend(loc="upper left", ncol=2, handlelength=2.2, columnspacing=2.5,
                  borderaxespad=0.4, prop={"family": LABEL_FONT, "size": 10})

for i, (title, t, sr, mr, ylim, yticks) in enumerate(right_panels):
    y0 = 43 + row_step * i
    ax = px_axes(591, y0, 984, y0 + 75.5)
    draw_panel(ax, title, t, sr, mr, ylim, yticks, i == len(right_panels) - 1)

# protein count histogram
axh = px_axes(591, 965, 984, 1303)
axh.bar(hist_edges[:-1], hist_counts, width=np.diff(hist_edges), align="edge",
        color="steelblue", alpha=0.8, edgecolor="black", linewidth=1.6)
axh.set_xlim(1.0, 4.09)
axh.set_ylim(0, 154.35)
axh.set_xticks([1.0, 1.5, 2.0, 2.5, 3.0, 3.5, 4.0])
axh.set_yticks([0, 20, 40, 60, 80, 100, 120, 140])
axh.set_xlabel("Scaled Protein Counts After a Cell Cycle", fontsize=11.5, labelpad=3,
               family=LABEL_FONT)
axh.set_ylabel("Unique Proteins", fontsize=11.5, labelpad=6, family=LABEL_FONT)
style_axes(axh)

fig.savefig("out.png", dpi=100)
